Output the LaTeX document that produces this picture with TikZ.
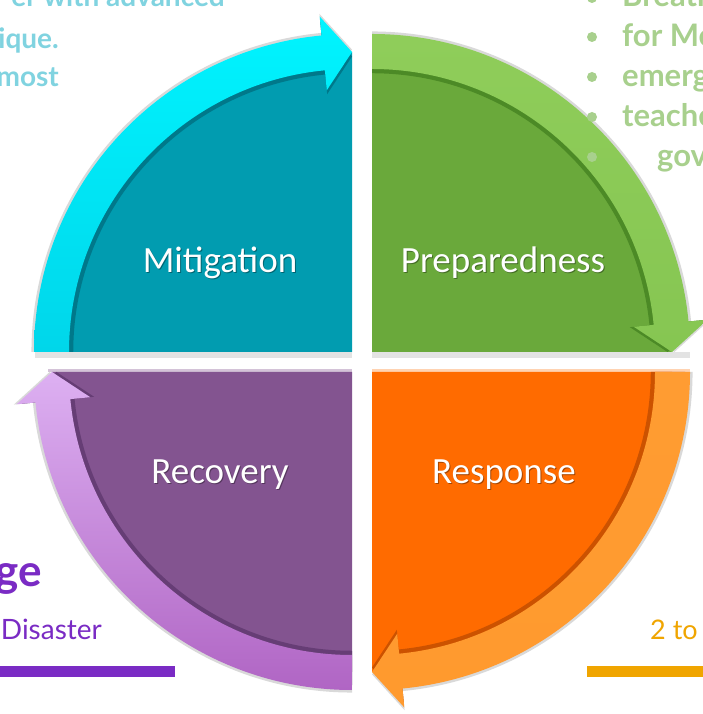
\documentclass[tikz,border=0pt]{standalone}
\usepackage{fontspec}
\setmainfont{Carlito}
\newfontfamily\latof{Lato}
\definecolor{tlDark}{HTML}{019CB0}
\definecolor{tlBandT}{HTML}{00F4FF}
\definecolor{tlBandB}{HTML}{00D6EA}
\definecolor{tlShad}{HTML}{00788A}
\definecolor{trDark}{HTML}{6AA93B}
\definecolor{trBandT}{HTML}{8FCD5A}
\definecolor{trBandB}{HTML}{86C652}
\definecolor{trShad}{HTML}{4C8A26}
\definecolor{brDark}{HTML}{FF6B00}
\definecolor{brBandT}{HTML}{FF9C32}
\definecolor{brBandB}{HTML}{FF9A2E}
\definecolor{brShad}{HTML}{CC5200}
\definecolor{blDark}{HTML}{835490}
\definecolor{blBandT}{HTML}{DDB0F2}
\definecolor{blBandB}{HTML}{B065C4}
\definecolor{blShad}{HTML}{663D75}
\definecolor{cyText}{HTML}{80D3E0}
\definecolor{grText}{HTML}{A8D08D}
\definecolor{puText}{HTML}{7A2BC4}
\definecolor{orText}{HTML}{F0A500}
\newcommand\myquadrant[6]{%
\begin{scope}[shift={#1}]
\begin{scope}[scale=1.008]
\fill[gray!30] (#2:318) arc[start angle=#2, end angle={#2-84.5}, radius=318] -- ({#2-84.5}:337) -- ({#2-90}:300) -- ({#2-84.5}:263) -- ({#2-84.5}:283) arc[start angle={#2-84.5}, end angle=#2, radius=283] -- cycle;
\end{scope}
\fill[#3] (0,0) -- (#2:300) arc[start angle=#2, end angle={#2-90}, radius=300] -- cycle;
\begin{scope}[scale=0.985]
\fill[#6] (#2:318) arc[start angle=#2, end angle={#2-84.5}, radius=318] -- ({#2-84.5}:337) -- ({#2-90}:300) -- ({#2-84.5}:263) -- ({#2-84.5}:283) arc[start angle={#2-84.5}, end angle=#2, radius=283] -- cycle;
\end{scope}
\shade[top color=#4, bottom color=#5] (#2:318) arc[start angle=#2, end angle={#2-84.5}, radius=318] -- ({#2-84.5}:337) -- ({#2-90}:300) -- ({#2-84.5}:263) -- ({#2-84.5}:283) arc[start angle={#2-84.5}, end angle=#2, radius=283] -- cycle;
\end{scope}}
\tikzset{
  lab/.style={text=white, font=\fontsize{37}{40}\selectfont, anchor=base, inner sep=0pt},
  labshadow/.style={text=black, opacity=0.35, font=\fontsize{37}{40}\selectfont, anchor=base, inner sep=0pt},
  cytext/.style={text=cyText, font=\latof\bfseries\fontsize{28}{34}\selectfont, inner sep=0pt},
  grtext/.style={text=grText, font=\latof\bfseries\fontsize{31}{34}\selectfont, inner sep=0pt, anchor=base west},
  bulletdot/.style={fill=grText, draw=none},
}
\begin{document}
\begin{tikzpicture}[x=1pt,y=1pt]
\useasboundingbox (0,0) rectangle (703,714);
\clip (0,0) rectangle (703,714);
\fill[white] (0,0) rectangle (703,714);
% gap strips
\fill[gray!22] (35,356) rectangle (352,362);
\fill[gray!22] (372,356) rectangle (690,362);
\fill[blDark!35] (48,342) rectangle (352,345);
\fill[brDark!30] (372,342) rectangle (690,345);
% quadrants
\myquadrant{(352,362)}{180}{tlDark}{tlBandT}{tlBandB}{tlShad}
\myquadrant{(372,362)}{90}{trDark}{trBandT}{trBandB}{trShad}
\myquadrant{(372,342)}{0}{brDark}{brBandT}{brBandB}{brShad}
\myquadrant{(352,342)}{-90}{blDark}{blBandT}{blBandB}{blShad}
% labels
\node[labshadow] (mitS) at (221,440) {Mitigation};
\node[lab] (mit) at (220,441) {Mitigation};
\node[labshadow] (preS) at (504,440) {Preparedness};
\node[lab] (pre) at (503,441) {Preparedness};
\node[labshadow] (recS) at (221,229) {Recovery};
\node[lab] (rec) at (220,230) {Recovery};
\node[labshadow] (resS) at (505,229) {Response};
\node[lab] (res) at (504,230) {Response};
% background text top-left
\node[cytext, anchor=base east] (t1) at (225,707) {er with advanced};
\node[cytext, anchor=base east] (t2) at (59,665) {ique.};
\node[cytext, anchor=base east] (t3) at (59,627) {most};
% bullets top-right
\fill[bulletdot] (592,716) circle[radius=5];
\fill[bulletdot] (592,677) circle[radius=5];
\fill[bulletdot] (592,637) circle[radius=5];
\fill[bulletdot] (592,597) circle[radius=5];
\fill[bulletdot] (592,557) circle[radius=5];
\node[grtext] (b1) at (622,707) {Breath};
\node[grtext] (b2) at (622,667) {for Me};
\node[grtext] (b3) at (622,627) {emerg};
\node[grtext] (b4) at (622,587) {teache};
\node[grtext] (b5) at (657,547) {gov};
% bottom-left
\node[text=puText, font=\latof\bfseries\fontsize{44}{50}\selectfont, inner sep=0pt, anchor=base east] (ge) at (42,127) {ge};
\node[text=puText, font=\latof\fontsize{28}{32}\selectfont, inner sep=0pt, anchor=base east] (dis) at (102,74) {Disaster};
\fill[puText] (0,37) rectangle (175,48);
% bottom-right
\node[text=orText, font=\latof\fontsize{27}{32}\selectfont, inner sep=0pt, anchor=base west] (two) at (650,74) {2 to};
\fill[orText] (587,37) rectangle (703,48);
\end{tikzpicture}
\end{document}
